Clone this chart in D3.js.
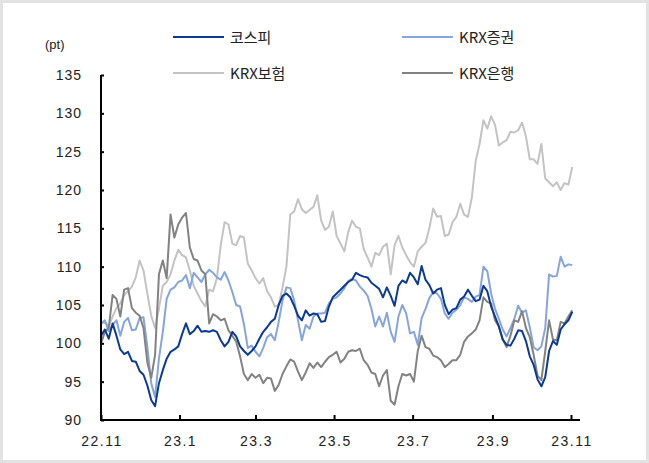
<!DOCTYPE html>
<html>
<head>
<meta charset="utf-8">
<script src="https://cdn.jsdelivr.net/npm/d3@7"></script>
<style>
  html, body { margin: 0; padding: 0; background: #fff; }
  svg { display: block; }
</style>
</head>
<body>
<svg id="chart" width="649" height="463"></svg>
<script>
// ---------- data ----------
const startDate = new Date(2022, 10, 1);
const stepDays = 3;
const seriesNames = ["코스피", "KRX증권", "KRX보험", "KRX은행"];
const kospi = [101.0,101.8,100.6,102.6,101.0,99.2,98.6,98.9,97.7,97.6,96.4,95.9,94.5,92.6,91.8,94.8,96.5,98.0,98.9,99.2,99.6,101.2,102.6,101.2,101.6,102.3,101.5,101.6,101.5,101.7,101.5,100.4,99.6,100.2,101.5,100.9,99.6,99.0,98.5,99.0,99.6,100.6,101.5,102.1,102.8,103.2,105.0,106.2,106.5,106.0,104.9,103.6,103.0,104.3,103.6,103.9,103.8,102.8,102.9,104.8,106.0,106.5,107.0,107.5,108.0,108.3,109.2,108.9,108.7,108.6,107.9,107.5,107.1,106.0,107.3,106.2,104.9,107.5,108.2,107.9,109.2,108.6,107.7,110.1,108.3,107.6,106.5,107.0,107.2,105.0,103.8,104.4,104.6,105.7,106.1,107.0,106.2,105.5,105.7,107.5,106.8,104.8,103.5,102.2,100.5,99.8,99.7,100.6,101.7,101.6,100.3,98.3,97.2,95.3,94.4,95.6,99.0,100.3,99.8,101.8,102.5,103.0,104.1];
const securities = [102.6,103.0,101.6,102.4,103.0,101.0,102.8,103.3,101.7,101.8,103.3,103.4,99.5,94.8,93.0,98.0,101.5,105.8,107.0,107.3,108.0,108.2,108.9,107.2,109.2,108.6,108.0,109.0,109.6,109.2,108.6,108.3,109.3,108.2,106.7,105.0,104.8,102.5,99.4,99.7,98.9,98.3,99.4,100.8,101.2,100.4,102.8,105.6,107.3,107.2,105.6,103.0,100.4,102.4,101.9,103.5,103.9,103.9,104.0,105.2,105.8,106.0,106.5,107.2,108.1,108.4,108.2,107.4,106.9,106.2,104.5,102.2,103.5,102.2,104.0,101.5,100.2,103.5,105.0,103.9,101.3,101.5,99.8,103.3,104.5,105.9,106.7,106.5,105.8,103.9,103.2,104.0,104.4,105.0,106.0,105.8,105.4,106.1,106.3,110.0,109.4,106.5,104.5,103.2,101.8,100.9,102.0,103.2,104.9,104.0,104.3,102.1,99.5,99.1,99.6,102.0,109.0,108.7,108.8,111.3,110.0,110.3,110.2];
const insurance = [102.6,102.8,102.2,103.5,104.6,105.2,106.3,106.8,107.4,108.6,110.8,109.5,106.5,103.6,102.0,104.5,107.5,108.0,109.0,110.8,112.2,111.5,111.2,109.5,107.5,106.5,105.5,104.8,107.0,106.8,108.5,112.8,115.8,115.5,113.0,112.8,114.0,113.8,110.4,109.5,108.5,107.8,108.5,106.8,106.0,104.8,105.0,107.3,110.0,116.8,117.2,118.8,117.5,117.0,117.4,117.8,119.3,116.0,114.8,115.2,117.2,114.0,113.0,112.0,114.5,116.0,115.2,115.0,112.3,111.2,110.0,111.8,111.5,112.6,113.0,109.0,112.8,114.0,112.5,111.5,110.6,110.0,112.0,112.6,113.1,115.0,117.6,116.5,116.6,114.0,114.2,115.8,116.5,118.2,116.8,116.5,119.0,123.8,126.0,129.1,128.0,129.6,128.5,125.8,126.2,126.5,127.6,127.5,127.8,128.8,127.0,124.0,124.0,123.4,126.0,121.5,121.0,120.5,121.0,120.0,120.9,120.7,123.0];
const banks = [100.0,101.5,102.0,106.3,105.8,103.5,107.0,107.2,104.6,104.0,103.6,102.0,97.5,95.5,98.5,109.0,110.8,108.5,116.8,113.8,115.5,116.4,117.0,112.5,111.0,110.8,109.5,109.0,102.6,103.8,103.5,103.0,103.2,101.7,101.0,100.2,98.3,96.0,95.2,96.0,95.5,95.9,94.8,95.5,95.4,93.8,94.6,96.0,97.0,97.9,97.6,96.3,95.2,96.2,97.4,96.8,97.5,96.9,97.6,98.2,98.5,98.9,97.5,98.0,98.9,99.1,99.0,99.3,97.8,97.2,96.2,96.0,94.4,95.8,96.5,92.5,92.0,94.4,96.0,95.8,96.0,95.0,99.0,101.0,99.5,99.3,98.4,98.2,97.8,96.9,97.3,97.8,97.8,98.5,100.2,100.9,101.3,101.8,103.0,106.0,105.4,105.2,103.0,102.2,100.5,99.5,101.0,103.0,102.8,104.2,102.0,100.8,98.5,95.8,95.2,99.0,103.0,100.5,100.4,102.8,102.6,103.5,104.3];
const yTicks = [90, 95, 100, 105, 110, 115, 120, 125, 130, 135];
const xTickDates = ["2022-11-01","2023-01-01","2023-03-01","2023-05-01","2023-07-01","2023-09-01","2023-11-01"];
const xTickLabels = ["22.11","23.1","23.3","23.5","23.7","23.9","23.11"];
const unitLabel = "(pt)";

// ---------- drawing ----------
const svg = d3.select("#chart");
const dates = kospi.map((_, i) => d3.timeDay.offset(startDate, i * stepDays));
const parse = d3.timeParse("%Y-%m-%d");

const x = d3.scaleTime()
  .domain([parse("2022-11-01"), parse("2023-11-08")])
  .range([101, 580]);
const y = d3.scaleLinear().domain([90, 135]).range([420, 75]);

// frame
svg.append("rect").attr("x", 1.5).attr("y", 1.5).attr("width", 646).attr("height", 460)
  .attr("fill", "#fff").attr("stroke", "#e2e2e2").attr("stroke-width", 3);

const colors = { "코스피": "#0a3a94", "KRX증권": "#86a5dc", "KRX보험": "#c3c3c3", "KRX은행": "#828282" };
const dataMap = { "코스피": kospi, "KRX증권": securities, "KRX보험": insurance, "KRX은행": banks };

const line = d3.line().x((d, i) => x(dates[i])).y(d => y(d));
const drawOrder = ["KRX보험", "KRX증권", "KRX은행", "코스피"];
drawOrder.forEach(name => {
  svg.append("path")
    .datum(dataMap[name])
    .attr("fill", "none")
    .attr("stroke", colors[name])
    .attr("stroke-width", 2)
    .attr("stroke-linejoin", "round")
    .attr("d", line);
});

const numFont = "'Liberation Sans', Arial, sans-serif";

// y axis
const yAxis = d3.axisRight(y).tickValues(yTicks).tickSize(3).tickFormat("");
const gy = svg.append("g").attr("transform", "translate(101,0)").call(yAxis);
gy.select(".domain").attr("stroke", "#000").attr("stroke-width", 2).attr("d", "M0,75V420");
gy.selectAll(".tick line").attr("stroke", "#000").attr("stroke-width", 2);
svg.append("g").selectAll("text").data(yTicks).join("text")
  .attr("x", 82).attr("y", d => y(d) + 5)
  .attr("text-anchor", "end")
  .attr("font-family", numFont).attr("font-size", 14).attr("letter-spacing", 1)
  .attr("fill", "#222")
  .text(d => d);

// x axis
const xAxis = d3.axisTop(x).tickValues(xTickDates.map(parse)).tickSize(5).tickFormat("");
const gx = svg.append("g").attr("transform", "translate(0,420)").call(xAxis);
gx.select(".domain").attr("stroke", "#000").attr("stroke-width", 2).attr("d", "M100,0H580");
gx.selectAll(".tick line").attr("stroke", "#000").attr("stroke-width", 2);
svg.append("g").selectAll("text").data(xTickDates).join("text")
  .attr("x", d => x(parse(d)) + 1).attr("y", 446)
  .attr("text-anchor", "middle")
  .attr("font-family", numFont).attr("font-size", 14).attr("letter-spacing", 1.5)
  .attr("fill", "#222")
  .text((d, i) => xTickLabels[i]);

// unit
svg.append("text").attr("x", 45).attr("y", 49)
  .attr("font-family", numFont).attr("font-size", 13).attr("fill", "#222")
  .text(unitLabel);

// legend
const legendPos = [
  { name: "코스피", x: 173, y: 37 },
  { name: "KRX증권", x: 402, y: 37 },
  { name: "KRX보험", x: 173, y: 73 },
  { name: "KRX은행", x: 402, y: 73 }
];
const lg = svg.append("g").selectAll("g").data(legendPos).join("g")
  .attr("transform", d => `translate(${d.x},${d.y})`);
lg.append("line").attr("x1", 0).attr("x2", 51).attr("y1", 0).attr("y2", 0)
  .attr("stroke", d => colors[d.name]).attr("stroke-width", 2);
lg.append("text").attr("x", 57).attr("y", 5.5)
  .attr("font-family", "'Noto Sans CJK KR', 'Liberation Sans', sans-serif")
  .attr("font-size", 15).attr("fill", "#222")
  .text(d => d.name);
</script>
</body>
</html>
